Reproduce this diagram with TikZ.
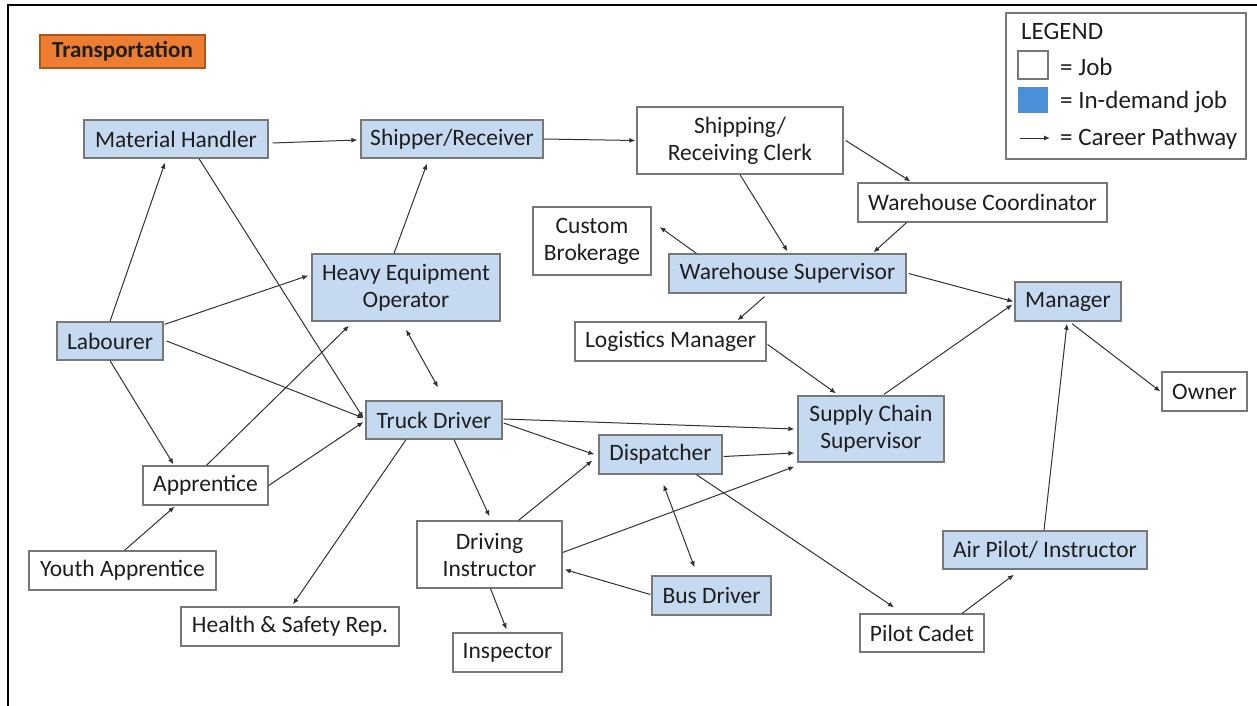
\documentclass[tikz,border=0pt]{standalone}
\usepackage{fontspec}
\setmainfont{Carlito}
\usetikzlibrary{arrows.meta,calc}
\definecolor{hotfill}{RGB}{197,217,241}
\definecolor{boxline}{RGB}{120,120,120}
\definecolor{orangefill}{RGB}{237,125,49}
\definecolor{orangeline}{RGB}{170,88,32}
\definecolor{legblue}{RGB}{74,144,217}
\definecolor{txt}{RGB}{30,30,30}
\definecolor{arr}{RGB}{50,50,50}
\begin{document}
\begin{tikzpicture}[x=1pt,y=-1pt,
 every node/.style={font=\fontsize{23.5}{27}\selectfont, text=txt},
 jobbox/.style={draw=boxline, line width=1.3pt, fill=white, inner sep=0pt, align=center},
 hotbox/.style={jobbox, fill=hotfill},
 legtext/.style={anchor=west, inner sep=0pt, font=\fontsize{25}{28}\selectfont},
 pth/.style={draw=arr, line width=1pt, -{Latex[length=6pt,width=5pt]}},
 twoway/.style={draw=arr, line width=1pt, {Latex[length=6pt,width=5pt]}-{Latex[length=6pt,width=5pt]}},
]
\useasboundingbox (0,0) rectangle (1257,706);
\draw[line width=2pt, black] (8,706) -- (8,5) -- (1257,5);

% title
\node[draw=orangeline, fill=orangefill, line width=1.2pt, minimum width=165pt, minimum height=33pt, inner sep=0pt, font=\fontsize{23}{26}\selectfont\bfseries] (title) at (122.5,51.5) {Transportation};

% legend
\node[draw=boxline, line width=1.3pt, minimum width=240pt, minimum height=146pt, inner sep=0pt] (legend) at (1126,86) {};
\node[legtext] (legtitle) at (1021,31) {LEGEND};
\node[draw=boxline, fill=white, line width=1.2pt, minimum width=30pt, minimum height=28pt, inner sep=0pt] (legjob) at (1033,65) {};
\node[legtext] (legjobt) at (1060,67) {= Job};
\node[fill=legblue, minimum width=30pt, minimum height=26pt, inner sep=0pt] (leghot) at (1033,100) {};
\node[legtext] (leghott) at (1060,102) {= In-demand job};
\coordinate (legarrs) at (1020,138);
\node[legtext] (legarrt) at (1060,139) {= Career Pathway};
\draw[pth, shorten >=10pt] (legarrs) -- (legarrt.west |- legarrs);

% jobs
\node[hotbox, minimum width=184pt, minimum height=38pt] (mh) at (176,139) {Material Handler};
\node[hotbox, minimum width=182pt, minimum height=38pt] (sr) at (452,139) {Shipper/Receiver};
\node[jobbox, minimum width=206pt, minimum height=67pt] (src) at (740,140.5) {Shipping/\\Receiving Clerk};
\node[jobbox, minimum width=249pt, minimum height=39pt] (wc) at (982.5,202.5) {Warehouse Coordinator};
\node[hotbox, minimum width=237pt, minimum height=39pt] (ws) at (787.5,273.5) {Warehouse Supervisor};
\node[hotbox, minimum width=106pt, minimum height=39pt] (mgr) at (1068,301.5) {Manager};
\node[jobbox, minimum width=118pt, minimum height=68pt] (cb) at (592,241) {Custom\\Brokerage};
\node[jobbox, minimum width=191pt, minimum height=39pt] (lm) at (670.5,341.5) {Logistics Manager};
\node[hotbox, minimum width=188pt, minimum height=67pt] (heo) at (406,287.5) {Heavy Equipment\\Operator};
\node[hotbox, minimum width=106pt, minimum height=38pt] (lab) at (110,341) {Labourer};
\node[hotbox, minimum width=136pt, minimum height=38pt] (td) at (434,420) {Truck Driver};
\node[jobbox, minimum width=125pt, minimum height=39pt] (app) at (205.5,485.5) {Apprentice};
\node[jobbox, minimum width=187pt, minimum height=39pt] (ya) at (122.5,570.5) {Youth Apprentice};
\node[jobbox, minimum width=218pt, minimum height=39pt] (hs) at (290,626.5) {Health \& Safety Rep.};
\node[jobbox, minimum width=145pt, minimum height=67pt] (di) at (489.5,554.5) {Driving\\Instructor};
\node[jobbox, minimum width=109pt, minimum height=39pt] (insp) at (507.5,652.5) {Inspector};
\node[hotbox, minimum width=123pt, minimum height=39pt] (disp) at (660.5,454.5) {Dispatcher};
\node[hotbox, minimum width=146pt, minimum height=66pt] (scs) at (871,429) {Supply Chain\\Supervisor};
\node[jobbox, minimum width=85pt, minimum height=39pt] (owner) at (1204.5,391.5) {Owner};
\node[hotbox, minimum width=204pt, minimum height=38pt] (ap) at (1045,550) {Air Pilot/ Instructor};
\node[hotbox, minimum width=119pt, minimum height=39pt] (bd) at (711.5,595.5) {Bus Driver};
\node[jobbox, minimum width=124pt, minimum height=38pt] (pc) at (922,633) {Pilot Cadet};

% pathways
\draw[pth] ([xshift=4pt,yshift=-4pt]mh.east) -- ([xshift=-3pt,yshift=-1pt]sr.west);
\draw[pth] (sr.east) -- ([xshift=-1pt]src.west);
\draw[pth] ([xshift=2pt]src.east) -- ([xshift=-72pt,yshift=1pt]wc.north);
\draw[pth] (src.south) -- ([yshift=2pt]ws.north);
\draw[pth] ([xshift=-76pt]wc.south) -- ([xshift=86pt,yshift=1pt]ws.north);
\draw[pth] ([xshift=28pt]ws.north west) -- ([xshift=8pt,yshift=14pt]cb.east);
\draw[pth] ([xshift=2pt]ws.east) -- ([xshift=-1pt]mgr.west);
\draw[pth] ([xshift=-23pt,yshift=-3pt]ws.south) -- ([xshift=67pt,yshift=1pt]lm.north);
\draw[pth] ([xshift=1pt,yshift=-3pt]lm.east) -- ([xshift=-35pt,yshift=2pt]scs.north);
\draw[pth] ([xshift=13pt,yshift=1pt]scs.north) -- ([xshift=-2pt,yshift=-3pt]mgr.west);
\draw[pth] ([xshift=4pt,yshift=-2pt]mgr.south) -- ([xshift=-1pt]owner.west);
\draw[pth] ([xshift=-1pt]ap.north) -- ([xshift=-1pt,yshift=-2pt]mgr.south);
\draw[pth] ([xshift=40pt]pc.north) -- ([xshift=-31pt,yshift=-5pt]ap.south);
\draw[pth] ([xshift=36pt]disp.south) -- ([xshift=-28pt,yshift=6pt]pc.north);
\draw[pth] ([xshift=1pt,yshift=-2pt]disp.east) -- ([xshift=-3pt,yshift=-24pt]scs.west);
\draw[pth] ([yshift=2pt]di.east) -- ([xshift=-3pt,yshift=-4pt]scs.south west);
\draw[pth] ([xshift=29pt]di.north) -- ([xshift=-6pt,yshift=-6pt]disp.west);
\draw[pth] ([xshift=-1pt,yshift=1pt]bd.west) -- ([xshift=2pt,yshift=-15pt]di.east);
\draw[twoway] ([xshift=3pt,yshift=-10pt]disp.south) -- ([xshift=-17pt,yshift=8pt]bd.north);
\draw[pth] ([xshift=1pt]di.south) -- ([xshift=-1pt,yshift=3pt]insp.north);
\draw[pth] ([xshift=20pt]td.south) -- ([yshift=4pt]di.north);
\draw[pth] ([xshift=1pt,yshift=-3pt]td.east) -- ([xshift=-4pt]disp.west);
\draw[pth] ([xshift=1pt,yshift=1pt]td.east) -- ([xshift=-3pt]scs.west);
\draw[pth] ([xshift=-28pt]td.south) -- ([xshift=3pt,yshift=2pt]hs.north);
\draw[twoway] ([yshift=-8pt]heo.south) -- ([xshift=4pt,yshift=13pt]td.north);
\draw[pth] ([xshift=-12pt]heo.north) -- ([xshift=-25pt,yshift=-5pt]sr.south);
\draw[pth] ([xshift=1pt,yshift=-3pt]lab.north east) -- ([xshift=-3pt,yshift=12pt]heo.west);
\draw[pth] (lab.north) -- ([xshift=-11pt,yshift=-4pt]mh.south);
\draw[pth] ([xshift=23pt]mh.south) -- ([xshift=-2pt,yshift=2pt]td.west);
\draw[pth] ([xshift=3pt]lab.east) -- ([xshift=-2pt,yshift=2pt]td.west);
\draw[pth] (lab.south) -- ([xshift=-32pt,yshift=1pt]app.north);
\draw[pth] ([xshift=1pt]app.north) -- ([xshift=-57pt,yshift=-4pt]heo.south);
\draw[pth] (app.east) -- ([xshift=-2pt,yshift=-2pt]td.west);
\draw[pth] ([xshift=2pt]ya.north) -- ([xshift=-31pt,yshift=-1pt]app.south);
\end{tikzpicture}
\end{document}
